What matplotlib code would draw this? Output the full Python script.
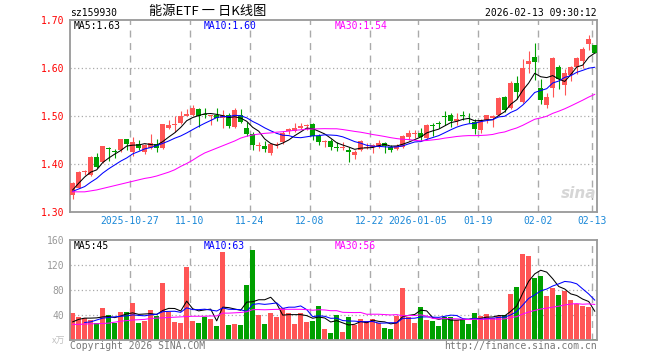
import numpy as np
import matplotlib as mpl
mpl.use("Agg")
from matplotlib import pyplot as plt

mpl.rcParams["font.family"] = ["DejaVu Sans Mono", "Noto Sans CJK SC"]

# daily candles, 2025-10-13 .. 2026-02-13
opens = [1.335, 1.351, 1.383, 1.377, 1.415, 1.405, 1.434, 1.427, 1.429, 1.452,
         1.426, 1.441, 1.426, 1.433, 1.441, 1.434, 1.474, 1.482, 1.485, 1.501,
         1.503, 1.515, 1.505, 1.501, 1.503, 1.495, 1.503, 1.478, 1.502, 1.474,
         1.462, 1.438, 1.438, 1.422, 1.439, 1.445, 1.469, 1.469, 1.474, 1.479,
         1.483, 1.459, 1.445, 1.447, 1.436, 1.433, 1.429, 1.419, 1.429, 1.434,
         1.435, 1.436, 1.444, 1.436, 1.431, 1.436, 1.457, 1.462, 1.465, 1.454,
         1.481, 1.484, 1.499, 1.502, 1.490, 1.502, 1.494, 1.487, 1.471, 1.492,
         1.495, 1.502, 1.540, 1.516, 1.568, 1.530, 1.608, 1.623, 1.559, 1.522,
         1.558, 1.603, 1.565, 1.585, 1.603, 1.615, 1.651, 1.647]
highs = [1.363, 1.385, 1.388, 1.416, 1.422, 1.438, 1.435, 1.431, 1.453, 1.453,
         1.457, 1.450, 1.442, 1.462, 1.453, 1.484, 1.492, 1.499, 1.510, 1.515,
         1.523, 1.517, 1.516, 1.503, 1.516, 1.512, 1.506, 1.516, 1.515, 1.487,
         1.466, 1.445, 1.447, 1.443, 1.446, 1.469, 1.476, 1.485, 1.485, 1.483,
         1.485, 1.462, 1.449, 1.452, 1.446, 1.445, 1.436, 1.429, 1.450, 1.444,
         1.441, 1.450, 1.446, 1.440, 1.441, 1.460, 1.471, 1.471, 1.474, 1.483,
         1.485, 1.489, 1.510, 1.506, 1.506, 1.510, 1.506, 1.493, 1.493, 1.503,
         1.502, 1.540, 1.542, 1.572, 1.584, 1.619, 1.636, 1.653, 1.578, 1.547,
         1.622, 1.606, 1.598, 1.605, 1.622, 1.644, 1.669, 1.647]
lows = [1.327, 1.349, 1.377, 1.375, 1.391, 1.403, 1.406, 1.412, 1.426, 1.429,
        1.417, 1.429, 1.421, 1.432, 1.424, 1.432, 1.472, 1.467, 1.483, 1.499,
        1.501, 1.478, 1.495, 1.481, 1.490, 1.476, 1.476, 1.476, 1.485, 1.458,
        1.429, 1.428, 1.424, 1.419, 1.434, 1.442, 1.463, 1.467, 1.472, 1.471,
        1.451, 1.440, 1.436, 1.429, 1.427, 1.429, 1.405, 1.411, 1.427, 1.431,
        1.422, 1.434, 1.423, 1.426, 1.429, 1.434, 1.450, 1.454, 1.448, 1.452,
        1.459, 1.474, 1.481, 1.478, 1.481, 1.492, 1.485, 1.462, 1.464, 1.485,
        1.478, 1.501, 1.508, 1.515, 1.535, 1.528, 1.589, 1.575, 1.526, 1.516,
        1.540, 1.556, 1.544, 1.573, 1.587, 1.601, 1.637, 1.631]
closes = [1.361, 1.384, 1.385, 1.415, 1.394, 1.437, 1.431, 1.426, 1.452, 1.441,
          1.446, 1.433, 1.440, 1.443, 1.434, 1.483, 1.481, 1.484, 1.499, 1.504,
          1.516, 1.501, 1.503, 1.502, 1.495, 1.503, 1.480, 1.512, 1.488, 1.462,
          1.440, 1.440, 1.431, 1.441, 1.441, 1.465, 1.472, 1.476, 1.480, 1.481,
          1.459, 1.445, 1.448, 1.436, 1.433, 1.436, 1.424, 1.424, 1.448, 1.436,
          1.440, 1.443, 1.438, 1.429, 1.438, 1.458, 1.465, 1.464, 1.456, 1.481,
          1.479, 1.483, 1.498, 1.490, 1.494, 1.500, 1.493, 1.473, 1.492, 1.502,
          1.501, 1.538, 1.512, 1.569, 1.549, 1.599, 1.615, 1.613, 1.533, 1.540,
          1.620, 1.578, 1.589, 1.603, 1.620, 1.640, 1.660, 1.632]
# volume, x万
volumes = [44, 37, 36, 32, 28, 52, 40, 27, 45, 45,
           60, 28, 30, 48, 38, 92, 45, 29, 28, 117,
           31, 28, 37, 34, 23, 141, 24, 26, 24, 88,
           144, 40, 26, 44, 37, 52, 44, 26, 44, 29,
           31, 54, 18, 12, 40, 13, 37, 24, 34, 30,
           34, 27, 20, 18, 38, 84, 37, 27, 53, 32,
           30, 23, 37, 37, 32, 34, 26, 43, 38, 42,
           35, 38, 40, 74, 85, 137, 134, 99, 103, 70,
           84, 72, 79, 64, 57, 55, 53, 1.5]

# moving-average values before the window is full
ma5_head = [1.346, 1.360, 1.373, 1.383]
ma10_head = [1.343, 1.348, 1.353, 1.362, 1.370, 1.381, 1.390, 1.398, 1.406]
ma30_head = [1.342, 1.342, 1.342, 1.344, 1.346, 1.349, 1.352, 1.355, 1.358, 1.361,
             1.364, 1.367, 1.370, 1.372, 1.375, 1.379, 1.383, 1.388, 1.395, 1.401,
             1.408, 1.416, 1.423, 1.428, 1.433, 1.438, 1.443, 1.448, 1.454]
vol_ma5_head = [29, 33, 35, 35]
vol_ma10_head = [np.nan, np.nan, 28, 29, 32, 35, 36, 37, 38]
vol_ma30_head = [25, 25, 25.5, 26, 26, 26.5, 27, 28.5, 30, 31,
                 32, 32.5, 33, 34.5, 35, 35.5, 36, 36.5, 37, 37.5,
                 38, 38, 38, 38.5, 38.5, 43, 43, 43.5, 44]

date_labels = ["2025-10-27", "11-10", "11-24", "12-08", "12-22",
               "2026-01-05", "01-19", "02-02", "02-13"]
date_idx = [10, 20, 30, 40, 50, 58, 68, 78, 87]

RED = "#ff5555"
GREEN = "#00a000"
GRID = "#aaaaaa"
FRAME = "#999999"
W, H = 660, 360


def moving_avg(vals, n, head):
    vals = np.asarray(vals, dtype=float)
    out = np.full(len(vals), np.nan)
    out[: n - 1] = head
    for i in range(n - 1, len(vals)):
        out[i] = vals[i - n + 1 : i + 1].mean()
    return out


def rect(l, t, r, b):
    return [l / W, 1 - b / H, (r - l) / W, (b - t) / H]


def style_frame(ax):
    for sp in ax.spines.values():
        sp.set_color(FRAME)
        sp.set_linewidth(1.3)


def ftext(x, y, s, **kw):
    fig.text(x / W, 1 - y / H, s, **kw)


fig = plt.figure(figsize=(6.6, 3.6), dpi=100)
o = np.array(opens)
h = np.array(highs)
l = np.array(lows)
c = np.array(closes)
v = np.array(volumes)
x = np.arange(len(c))
up = c >= o
colors = [RED if u else GREEN for u in up]
grid_x = np.array(date_idx) - 0.45
xlim = (-0.45, 87.38)

# ---- price panel ----
ax_p = fig.add_axes(rect(70, 20, 597, 212))
style_frame(ax_p)
for gy in [1.4, 1.5, 1.6]:
    ax_p.axhline(gy, color=GRID, lw=0.9, ls=(0, (1, 2)), zorder=0)
for gx in grid_x:
    ax_p.axvline(gx, color=GRID, lw=1, ls=(0, (5, 4)), zorder=0)

ax_p.vlines(x, l, h, colors=colors, lw=0.8, zorder=2)
body = np.maximum(np.abs(c - o), 0.0015)
ax_p.bar(x, body, bottom=np.minimum(o, c), width=0.8, color=colors, lw=0, zorder=3)

ax_p.plot(x, moving_avg(c, 5, ma5_head), color="black", lw=0.75, zorder=4)
ax_p.plot(x, moving_avg(c, 10, ma10_head), color="#0000ff", lw=0.75, zorder=4)
ax_p.plot(x, moving_avg(c, 30, ma30_head), color="#ff00ff", lw=0.75, zorder=4)

ax_p.set_xlim(*xlim)
ax_p.set_ylim(1.30, 1.70)
ax_p.set_yticks([1.3, 1.4, 1.5, 1.6, 1.7])
ax_p.set_yticklabels([f"{t:.2f}" for t in [1.3, 1.4, 1.5, 1.6, 1.7]])
ax_p.set_xticks(grid_x)
ax_p.set_xticklabels(date_labels)
ax_p.tick_params(axis="y", length=0, pad=4, labelcolor="red", labelsize=7)
ax_p.tick_params(axis="x", length=0, pad=3, labelcolor="#1a88d8", labelsize=7)

# watermark
ax_p.text(84.3, 1.338, "sina", fontsize=11, fontweight="bold", fontstyle="italic",
          color="#d6d6d6", ha="center", va="center", family="DejaVu Sans", zorder=1)

# ---- volume panel ----
ax_v = fig.add_axes(rect(70, 240, 597, 340))
style_frame(ax_v)
for gy in [40, 80, 120]:
    ax_v.axhline(gy, color=GRID, lw=0.9, ls=(0, (1, 2)), zorder=0)
for gx in grid_x:
    ax_v.axvline(gx, color=GRID, lw=1, ls=(0, (5, 4)), zorder=0)

ax_v.bar(x, v, width=0.78, color=colors, lw=0, zorder=2)
ax_v.plot(x, moving_avg(v, 5, vol_ma5_head), color="black", lw=0.75, zorder=3)
ax_v.plot(x, moving_avg(v, 10, vol_ma10_head), color="#0000ff", lw=0.75, zorder=3)
ax_v.plot(x, moving_avg(v, 30, vol_ma30_head), color="#ff00ff", lw=0.75, zorder=3)

ax_v.set_xlim(*xlim)
ax_v.set_ylim(0, 160)
ax_v.set_yticks([40, 80, 120, 160])
ax_v.set_xticks([])
ax_v.tick_params(axis="y", length=0, pad=4, labelcolor="#999999", labelsize=7)

# ---- texts ----
ftext(70, 13, "sz159930", fontsize=7, ha="left", va="center")
ftext(208, 12, "能源ETF 一 日K线图", fontsize=9.5, ha="center", va="center",
      family=["Noto Sans CJK SC", "DejaVu Sans"])
ftext(597, 13, "2026-02-13 09:30:12", fontsize=7, ha="right", va="center")

ftext(74, 26, "MA5:1.63", fontsize=7, color="black", va="center")
ftext(204, 26, "MA10:1.60", fontsize=7, color="#0000ff", va="center")
ftext(335, 26, "MA30:1.54", fontsize=7, color="#ff00ff", va="center")

ftext(74, 246, "MA5:45", fontsize=7, color="black", va="center")
ftext(204, 246, "MA10:63", fontsize=7, color="#0000ff", va="center")
ftext(335, 246, "MA30:56", fontsize=7, color="#ff00ff", va="center")

ftext(65, 341, "x万", fontsize=6.5, color="#c0c0c0", ha="right", va="center",
      family=["Noto Sans CJK SC", "DejaVu Sans"])
ftext(70, 346, "Copyright 2026 SINA.COM", fontsize=7, color="#777777", va="center")
ftext(597, 346, "http://finance.sina.com.cn", fontsize=7, color="#777777",
      ha="right", va="center")

fig.savefig("out.png", dpi=100)
